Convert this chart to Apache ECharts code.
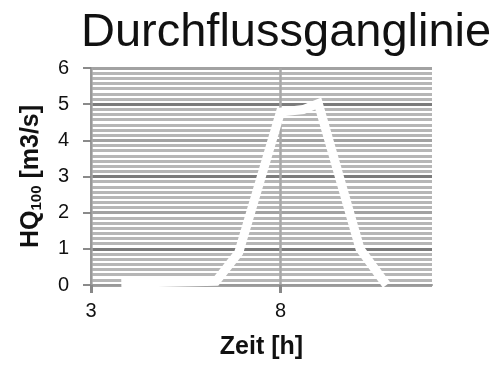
<!DOCTYPE html>
<html>
<head>
<meta charset="utf-8">
<script src="https://cdn.jsdelivr.net/npm/echarts@6/dist/echarts.min.js"></script>
<style>html,body{margin:0;padding:0;background:#fff}#c{width:497px;height:367px}</style>
</head>
<body>
<div id="c"></div>
<script>
// Data
var timeH = [3.8, 6.3, 6.9, 8.0, 8.6, 9.0, 10.1, 10.8];
var flowQ = [0.05, 0.1, 0.9, 4.78, 4.85, 5.02, 1.0, 0.0];
var xTickLabels = [3, 8];
var yTicks = [0, 1, 2, 3, 4, 5, 6];

var pts = timeH.map(function (t, i) { return [t, flowQ[i]]; });
var font = "'Liberation Sans', Arial, sans-serif";

var chart = echarts.init(document.getElementById('c'), null, { renderer: 'canvas' });
chart.setOption({
  animation: false,
  backgroundColor: '#fff',
  title: {
    text: 'Durchflussganglinie',
    left: 76, top: 5,
    textStyle: { fontFamily: font, fontSize: 47, fontWeight: 'normal', color: '#111' }
  },
  grid: { left: 91, right: 65, top: 68, bottom: 82 },
  xAxis: {
    type: 'value', min: 3, max: 12, interval: 1,
    name: 'Zeit [h]', nameLocation: 'middle', nameGap: 50,
    nameTextStyle: { fontFamily: font, fontSize: 25, fontWeight: 'bold', color: '#111' },
    axisLine: { show: true, lineStyle: { color: '#999', width: 2 } },
    axisTick: { show: true, customValues: xTickLabels, length: 8, lineStyle: { color: '#888', width: 3 } },
    axisLabel: { customValues: xTickLabels, margin: 16, fontFamily: font, fontSize: 20, color: '#111' },
    splitLine: { show: true, lineStyle: { width: 2.5, color: ['#a8a8a8','#a8a8a8','#a8a8a8','#a8a8a8','#a8a8a8','#7a7a7a','#a8a8a8','#a8a8a8','#a8a8a8','#a8a8a8'] } }
  },
  yAxis: {
    type: 'value', min: 0, max: 6, interval: 1,
    name: '{b|HQ}{s|100}{b| [m3/s]}', nameLocation: 'middle', nameGap: 47,
    nameTextStyle: {
      rich: {
        b: { fontFamily: font, fontSize: 25, fontWeight: 'bold', color: '#111' },
        s: { fontFamily: font, fontSize: 15, fontWeight: 'bold', color: '#111', verticalAlign: 'bottom', padding: [10, 0, 0, 0] }
      }
    },
    axisLine: { show: true, lineStyle: { color: '#999', width: 2 } },
    axisTick: { show: true, length: 8, lineStyle: { color: '#8a8a8a', width: 2 } },
    axisLabel: { margin: 22, fontFamily: font, fontSize: 20, color: '#111',
      formatter: function (v) { return yTicks.indexOf(v) >= 0 ? String(v) : ''; } },
    splitLine: { show: true, lineStyle: { width: 3, color: ['#a2a2a2', '#7c7c7c'] } },
    minorTick: { show: false, splitNumber: 7 },
    minorSplitLine: { show: true, lineStyle: { color: '#b6b6b6', width: 3 } }
  },
  series: [{
    type: 'line', data: pts, symbol: 'none', z: 5,
    lineStyle: { color: '#ffffff', width: 9, join: 'miter' }
  }]
});
</script>
</body>
</html>
